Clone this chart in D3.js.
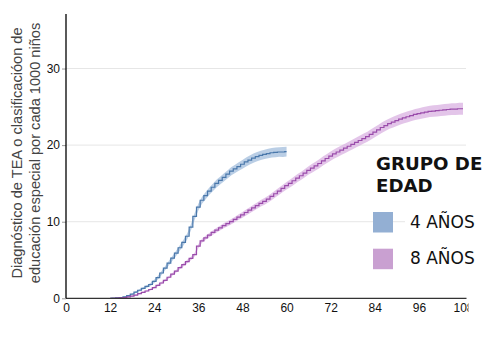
<!DOCTYPE html>
<html><head><meta charset="utf-8">
<script src="https://cdn.jsdelivr.net/npm/d3@7"></script>
<style>body{margin:0;background:#fff}svg{display:block}</style>
</head><body>
<svg id="c" width="502" height="360"></svg>
<script>
// ---- data ----
const xTicks = [0,12,24,36,48,60,72,84,96,108];
const yTicks = [0,10,20,30];
const groupNames = ["4 AÑOS","8 AÑOS"];
const startMonth = 12;
const age4 = [0.0,0.02,0.05,0.1,0.2,0.35,0.55,0.8,1.05,1.3,1.55,1.8,2.2,2.7,3.3,3.95,4.6,5.25,5.9,6.6,7.3,8.1,9.3,10.7,11.9,12.8,13.4,14.0,14.5,15.0,15.4,15.8,16.2,16.6,16.9,17.2,17.5,17.8,18.05,18.3,18.5,18.65,18.8,18.9,19.0,19.05,19.1,19.1,19.15];
const age4ci = [0.02,0.02,0.03,0.04,0.05,0.07,0.09,0.11,0.13,
  0.15,0.17,0.19,0.21,0.23,0.25,0.27,0.29,0.31,0.33,
  0.35,0.37,0.39,0.41,0.43,0.45,0.46,0.47,0.48,0.49,
  0.5,0.51,0.52,0.53,0.54,0.55,0.56,0.57,0.58,0.59,
  0.6,0.6,0.61,0.61,0.62,0.62,0.63,0.63,0.64,0.64];
const age8 = [0,0.0,0.02,0.05,0.1,0.18,0.28,0.42,0.6,0.78,0.95,1.15,1.4,1.7,2.0,2.35,2.75,3.15,3.55,4.0,4.4,4.8,5.2,5.7,6.8,7.5,7.9,8.25,8.6,8.9,9.2,9.5,9.75,10.0,10.3,10.6,10.9,11.2,11.5,11.8,12.1,12.4,12.65,12.95,13.3,13.65,14.0,14.35,14.7,15.0,15.35,15.7,16.0,16.35,16.7,17.0,17.3,17.6,17.95,18.25,18.55,18.85,19.1,19.35,19.6,19.85,20.1,20.35,20.6,20.85,21.1,21.4,21.7,22.0,22.3,22.55,22.8,23.0,23.2,23.4,23.55,23.7,23.85,24.0,24.1,24.2,24.3,24.4,24.45,24.5,24.55,24.6,24.65,24.7,24.7,24.75,24.75];
const age8ci = [0.02,0.02,0.03,0.04,0.05,0.06,0.07,0.08,0.09,
  0.1,0.11,0.12,0.13,0.14,0.15,0.16,0.17,0.18,0.19,
  0.2,0.21,0.22,0.23,0.24,0.25,0.26,0.27,0.28,0.29,
  0.3,0.31,0.32,0.33,0.34,0.35,0.36,0.37,0.38,0.39,
  0.4,0.41,0.42,0.43,0.44,0.45,0.46,0.47,0.48,0.49,
  0.5,0.51,0.52,0.53,0.54,0.55,0.56,0.57,0.58,0.59,
  0.6,0.6,0.61,0.61,0.62,0.62,0.63,0.63,0.64,0.64,
  0.65,0.65,0.66,0.66,0.67,0.67,0.68,0.68,0.69,0.69,
  0.7,0.7,0.71,0.71,0.72,0.72,0.73,0.73,0.74,0.74,
  0.75,0.75,0.76,0.76,0.77,0.77,0.78,0.78];

// ---- chart ----
const svg = d3.select("#c");
const x = d3.scaleLinear().domain([0,108]).range([66,463]);
const y = d3.scaleLinear().domain([0,37]).range([298.3,14.9]);

const series = [
  {name: groupNames[0], v: age4, ci: age4ci, line: "#4a78ab", band: "#a9c2de", sw: "#93afd3"},
  {name: groupNames[1], v: age8, ci: age8ci, line: "#9a4cab", band: "#dcb6e4", sw: "#c9a0d1"}
];

// gridlines
svg.append("g").selectAll("line").data(yTicks.filter(d=>d>0)).join("line")
  .attr("x1",66).attr("x2",466).attr("y1",d=>y(d)).attr("y2",d=>y(d))
  .attr("stroke","#e6e6e6").attr("stroke-width",1);

// ribbons & lines
const area = d3.area().curve(d3.curveLinear)
  .x(d=>x(d.m)).y0(d=>y(d.v-d.c)).y1(d=>y(d.v+d.c));
const line = d3.line().curve(d3.curveStep).x(d=>x(d.m)).y(d=>y(d.v));
series.forEach(s=>{
  s.pts = s.v.map((v,i)=>({m: startMonth+i, v, c: s.ci[i]}));
});
series.forEach(s=>{
  svg.append("path").attr("d",area(s.pts)).attr("fill",s.band).attr("fill-opacity",0.8);
});
series.forEach(s=>{
  svg.append("path").attr("d",line(s.pts)).attr("fill","none").attr("stroke",s.line).attr("stroke-width",1.2);
});

// axes
svg.append("clipPath").attr("id","clipx").append("rect")
  .attr("x",0).attr("y",0).attr("width",468.5).attr("height",360);
const xa = svg.append("g").attr("transform","translate(0,298.3)")
  .attr("clip-path","url(#clipx)")
  .call(d3.axisBottom(x).tickValues(xTicks).tickSize(0).tickPadding(5));
xa.select(".domain").remove();
xa.selectAll("text").attr("font-family","'Liberation Sans',Arial,sans-serif").attr("font-size",12).attr("fill","#111");
svg.append("line").attr("x1",66).attr("x2",466.5).attr("y1",298.3).attr("y2",298.3)
  .attr("stroke","#333").attr("stroke-width",1.2);

const ya = svg.append("g").attr("transform","translate(66,0)")
  .call(d3.axisLeft(y).tickValues(yTicks).tickSize(4).tickPadding(2));
ya.select(".domain").remove();
ya.selectAll(".tick line").attr("stroke","#999");
ya.selectAll("text").attr("font-family","'Liberation Sans',Arial,sans-serif").attr("font-size",12).attr("fill","#111");
svg.append("line").attr("x1",66).attr("x2",66).attr("y1",14).attr("y2",298.3)
  .attr("stroke","#000").attr("stroke-width",1.3);

// y title
const yt = svg.append("text").attr("transform","translate(0,153) rotate(-90)")
  .attr("text-anchor","middle").attr("font-family","'Liberation Sans',Arial,sans-serif")
  .attr("font-size",14.6).attr("fill","#444");
yt.append("tspan").attr("x",0).attr("y",21.5).text("Diagnóstico de TEA o clasificacióon de");
yt.append("tspan").attr("x",0).attr("y",40).text("educación especial por cada 1000 niños");

// legend
svg.append("rect").attr("x",405).attr("y",204).attr("width",97).attr("height",72).attr("fill","#fff");
const lf = "'DejaVu Sans',sans-serif";
svg.append("text").attr("x",376).attr("y",170).attr("font-family",lf).attr("font-weight","bold")
  .attr("font-size",18.2).attr("fill","#111").text("GRUPO DE");
svg.append("text").attr("x",376).attr("y",192).attr("font-family",lf).attr("font-weight","bold")
  .attr("font-size",18.2).attr("fill","#111").text("EDAD");
const lg = svg.append("g").selectAll("g").data(series).join("g")
  .attr("transform",(d,i)=>`translate(373,${212+i*36.7})`);
lg.append("rect").attr("width",20).attr("height",20.5).attr("fill",d=>d.sw);
lg.append("text").attr("x",37).attr("y",15.5).attr("font-family",lf).attr("font-size",17)
  .attr("fill","#111").text(d=>d.name);
</script>
</body></html>
